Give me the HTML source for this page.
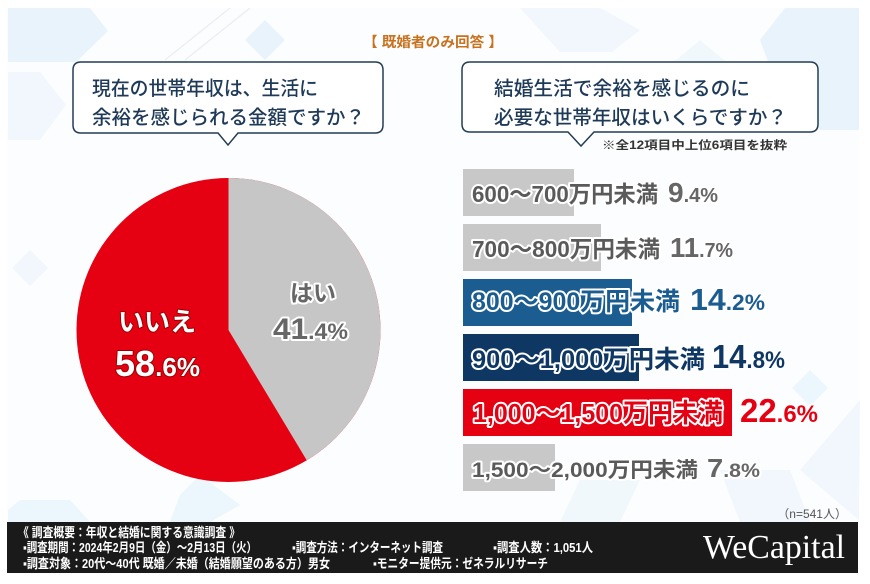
<!DOCTYPE html>
<html><head><meta charset="utf-8"><style>
html,body{margin:0;padding:0;background:#fff;}
svg{display:block;}
text{font-family:"Liberation Sans","Noto Sans CJK JP",sans-serif;}
</style></head><body>
<svg width="870" height="584" viewBox="0 0 870 584" xmlns="http://www.w3.org/2000/svg">
<rect x="0" y="0" width="870" height="584" fill="#fff"/>
<rect x="7" y="8" width="852" height="566" fill="#fcfdfe"/>
<!-- background decorations -->
<g fill="#e4f1fb" opacity="0.85">
<polygon points="8,8 90,8 108,31 76,62 8,62"/>
<polygon points="8,72 40,72 66,105 40,140 8,140" opacity="0.6"/>
<polygon points="265,20 285,40 265,60 245,40"/>
<polygon points="520,8 600,8 640,30 612,52 560,52" opacity="0.6"/>
<polygon points="785,8 859,8 859,130 820,130 775,80 760,40"/>
<polygon points="700,40 730,65 700,90 670,65" opacity="0.5"/>
<polygon points="810,370 828,388 810,406 792,388" opacity="0.8"/>
<polygon points="860,400 800,470 859,520" opacity="0.6"/>
<polygon points="20,500 70,500 90,522 8,522 8,510" opacity="0.8"/>
<polygon points="200,475 240,505 210,522 170,522 180,495" opacity="0.8"/>
<polygon points="580,480 640,480 620,522 560,522" opacity="0.5"/>
<polygon points="720,470 790,470 810,522 740,522" opacity="0.6"/>
<polygon points="30,250 48,268 30,286 12,268" opacity="0.6"/>
</g>
<g stroke="#e8eef4" stroke-width="1.2" fill="none">
<line x1="165" y1="60" x2="230" y2="8"/>
<line x1="185" y1="60" x2="250" y2="8"/>
</g>

<!-- title -->
<text x="433" y="47" text-anchor="middle" font-size="14" font-weight="bold" fill="#c8721f" textLength="140" lengthAdjust="spacingAndGlyphs">【 既婚者のみ回答 】</text>

<!-- left bubble -->
<path d="M81,62 H375 Q383,62 383,70 V125 Q383,133 375,133 H238 L228,145 L218,133 H81 Q73,133 73,125 V70 Q73,62 81,62 Z" fill="#fff" stroke="#243d57" stroke-width="1.5"/>
<text x="92" y="95" font-size="19.5" font-weight="500" fill="#1e3a58" textLength="226" lengthAdjust="spacingAndGlyphs">現在の世帯年収は、生活に</text>
<text x="92" y="124" font-size="19.5" font-weight="500" fill="#1e3a58" textLength="273" lengthAdjust="spacingAndGlyphs">余裕を感じられる金額ですか？</text>

<!-- right bubble -->
<path d="M470,62 H810 Q818,62 818,70 V124 Q818,132 810,132 H594 L581,146 L568,132 H470 Q462,132 462,124 V70 Q462,62 470,62 Z" fill="#fff" stroke="#243d57" stroke-width="1.5"/>
<text x="494" y="95" font-size="19.5" font-weight="500" fill="#1e3a58" textLength="256" lengthAdjust="spacingAndGlyphs">結婚生活で余裕を感じるのに</text>
<text x="494" y="124" font-size="19.5" font-weight="500" fill="#1e3a58" textLength="293" lengthAdjust="spacingAndGlyphs">必要な世帯年収はいくらですか？</text>
<text x="602" y="149" font-size="11.5" font-weight="bold" fill="#333" textLength="185" lengthAdjust="spacingAndGlyphs">※全12項目中上位6項目を抜粋</text>

<!-- pie -->
<circle cx="228.5" cy="330" r="152" fill="#e50012"/>
<path d="M228.5,330 L228.5,178 A152,152 0 0 1 306.7,460.3 Z" fill="#c6c6c6"/>
<g paint-order="stroke" stroke-linejoin="round" font-weight="bold">
<text x="313" y="301" text-anchor="middle" font-size="23" fill="#666" stroke="#fff" stroke-width="4">はい</text>
<text x="273" y="339" font-size="30" fill="#666" stroke="#fff" stroke-width="4" textLength="75" lengthAdjust="spacingAndGlyphs">41<tspan font-size="22">.4%</tspan></text>
<text x="157" y="331" text-anchor="middle" font-size="26" fill="#fff" stroke="#9a0000" stroke-width="2">いいえ</text>
<text x="115" y="376" font-size="36" fill="#fff" stroke="#9a0000" stroke-width="2" textLength="85" lengthAdjust="spacingAndGlyphs">58<tspan font-size="26">.6%</tspan></text>
</g>

<!-- bars -->
<rect x="463" y="169" width="111" height="47" fill="#c8c8c8"/>
<rect x="463" y="224" width="138" height="47" fill="#c8c8c8"/>
<rect x="463" y="279" width="169" height="47" fill="#1b5c91"/>
<rect x="463" y="334" width="176" height="47" fill="#0e3764"/>
<rect x="463" y="389" width="269" height="47" fill="#e50012"/>
<rect x="463" y="444" width="92" height="47" fill="#c8c8c8"/>

<g paint-order="stroke" stroke="#fff" stroke-linejoin="round" font-weight="bold">
<text x="472" y="202" font-size="23" fill="#5a5a5a" stroke-width="4" textLength="186" lengthAdjust="spacingAndGlyphs">600〜700万円未満</text>
<text x="668" y="202" font-size="28" fill="#666" stroke-width="4" textLength="50" lengthAdjust="spacingAndGlyphs">9<tspan font-size="20">.4%</tspan></text>

<text x="472" y="257" font-size="23" fill="#5a5a5a" stroke-width="4" textLength="188" lengthAdjust="spacingAndGlyphs">700〜800万円未満</text>
<text x="670" y="257" font-size="28" fill="#666" stroke-width="4" textLength="63" lengthAdjust="spacingAndGlyphs">11<tspan font-size="20">.7%</tspan></text>

<text x="472" y="310" font-size="25" fill="#1b5c91" stroke-width="4" textLength="208" lengthAdjust="spacingAndGlyphs">800〜900万円未満</text>
<text x="690" y="310" font-size="31" fill="#1b5c91" stroke-width="4" textLength="75" lengthAdjust="spacingAndGlyphs">14<tspan font-size="22">.2%</tspan></text>

<text x="472" y="368" font-size="25" fill="#0e3764" stroke-width="4" textLength="233" lengthAdjust="spacingAndGlyphs">900〜1,000万円未満</text>
<text x="712" y="368" font-size="33" fill="#0e3764" stroke-width="4" textLength="73" lengthAdjust="spacingAndGlyphs">14<tspan font-size="24">.8%</tspan></text>

<text x="473" y="422" font-size="26" fill="#e50012" stroke-width="4" textLength="250" lengthAdjust="spacingAndGlyphs">1,000〜1,500万円未満</text>
<text x="740" y="422" font-size="33" fill="#e50012" stroke-width="4" textLength="78" lengthAdjust="spacingAndGlyphs">22<tspan font-size="24">.6%</tspan></text>

<text x="472" y="477" font-size="21" fill="#5a5a5a" stroke-width="4" textLength="226" lengthAdjust="spacingAndGlyphs">1,500〜2,000万円未満</text>
<text x="707" y="477" font-size="26" fill="#666" stroke-width="4" textLength="53" lengthAdjust="spacingAndGlyphs">7<tspan font-size="19">.8%</tspan></text>
</g>

<text x="847" y="518" text-anchor="end" font-size="12" fill="#555">（n=541人）</text>

<!-- footer -->
<rect x="7" y="522" width="851" height="51" fill="#1a1a1a"/>
<g fill="#fff" font-size="13" font-weight="bold">
<text x="18" y="537" textLength="222" lengthAdjust="spacingAndGlyphs">《 調査概要：年収と結婚に関する意識調査 》</text>
<text x="23" y="552" textLength="234" lengthAdjust="spacingAndGlyphs">▪調査期間：2024年2月9日（金）～2月13日（火）</text>
<text x="292" y="552" textLength="151" lengthAdjust="spacingAndGlyphs">▪調査方法：インターネット調査</text>
<text x="493" y="552" textLength="100" lengthAdjust="spacingAndGlyphs">▪調査人数：1,051人</text>
<text x="23" y="568" textLength="307" lengthAdjust="spacingAndGlyphs">▪調査対象：20代～40代 既婚／未婚（結婚願望のある方）男女</text>
<text x="373" y="568" textLength="175" lengthAdjust="spacingAndGlyphs">▪モニター提供元：ゼネラルリサーチ</text>
</g>
<text x="703" y="558" font-size="34" fill="#fff" textLength="142" lengthAdjust="spacingAndGlyphs" style="font-family:'Liberation Serif',serif">WeCapital</text>
</svg>
</body></html>
